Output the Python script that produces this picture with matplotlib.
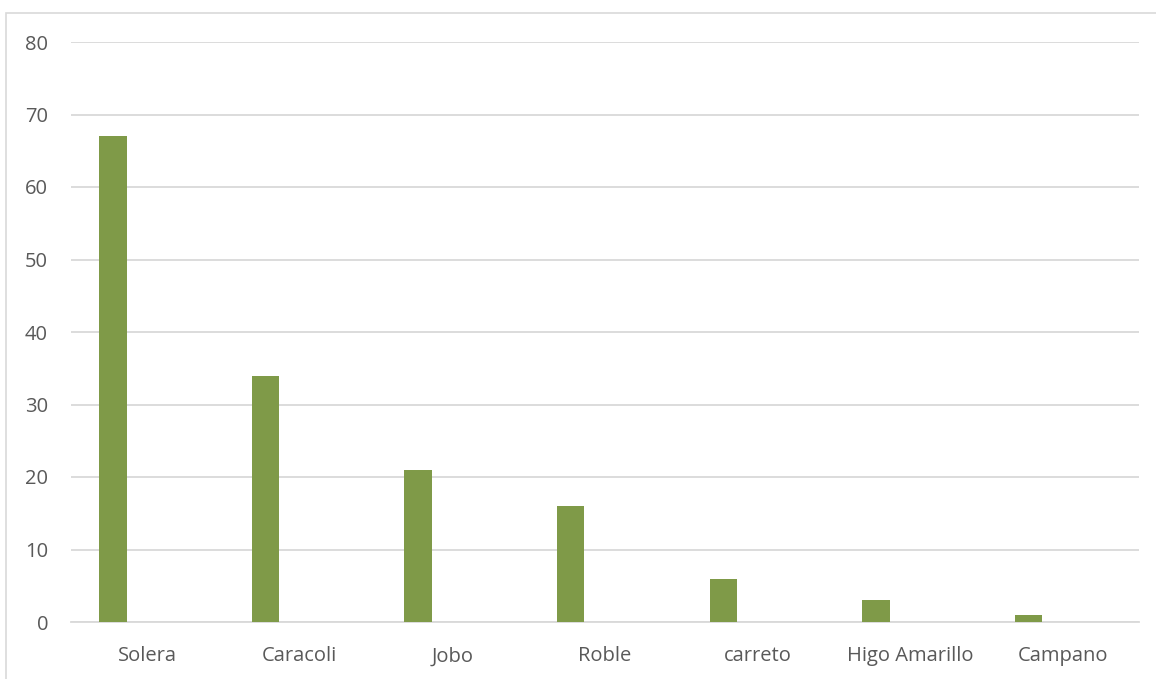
import matplotlib
matplotlib.use("Agg")
import matplotlib.pyplot as plt
from matplotlib.patches import Rectangle
import numpy as np

categories = ["Solera", "Caracoli", "Jobo", "Roble", "carreto", "Higo Amarillo", "Campano"]
values = [67, 34, 21, 16, 6, 3, 1]
yticks = [0, 10, 20, 30, 40, 50, 60, 70, 80]

plt.rcParams['font.family'] = ['Open Sans', 'DejaVu Sans']

W, H = 1156, 679
fig = plt.figure(figsize=(W / 100, H / 100), dpi=100)
fig.patches.append(Rectangle((6 / W, -0.1), 1.2, 1 - 13 / H + 0.1, transform=fig.transFigure,
                             fill=False, edgecolor="#d9d9d9", linewidth=1.2, zorder=0))

ax = fig.add_axes([71 / W, 1 - 622 / H, (1139 - 71) / W, (622 - 42) / H])
x = np.arange(len(categories))
ax.bar(x - 0.225, values, width=0.18, color="#7f9a48", zorder=3)
ax.set_xlim(-0.5, len(categories) - 0.5)
ax.set_ylim(0, 80)
ax.set_yticks(yticks)
ax.set_yticklabels([str(v) for v in yticks])
ax.set_xticks(x)
ax.set_xticklabels(categories)
ax.grid(axis="y", color="#d9d9d9", linewidth=1.3, zorder=0)
ax.set_axisbelow(True)
for s in ["top", "right", "left"]:
    ax.spines[s].set_visible(False)
ax.spines["bottom"].set_color("#d9d9d9")
ax.spines["bottom"].set_linewidth(1.3)
ax.tick_params(axis="both", length=0, labelsize=14.5, labelcolor="#595959")
ax.tick_params(axis="y", pad=16.5)
ax.tick_params(axis="x", pad=17.5)

fig.savefig("out.png", dpi=100)
